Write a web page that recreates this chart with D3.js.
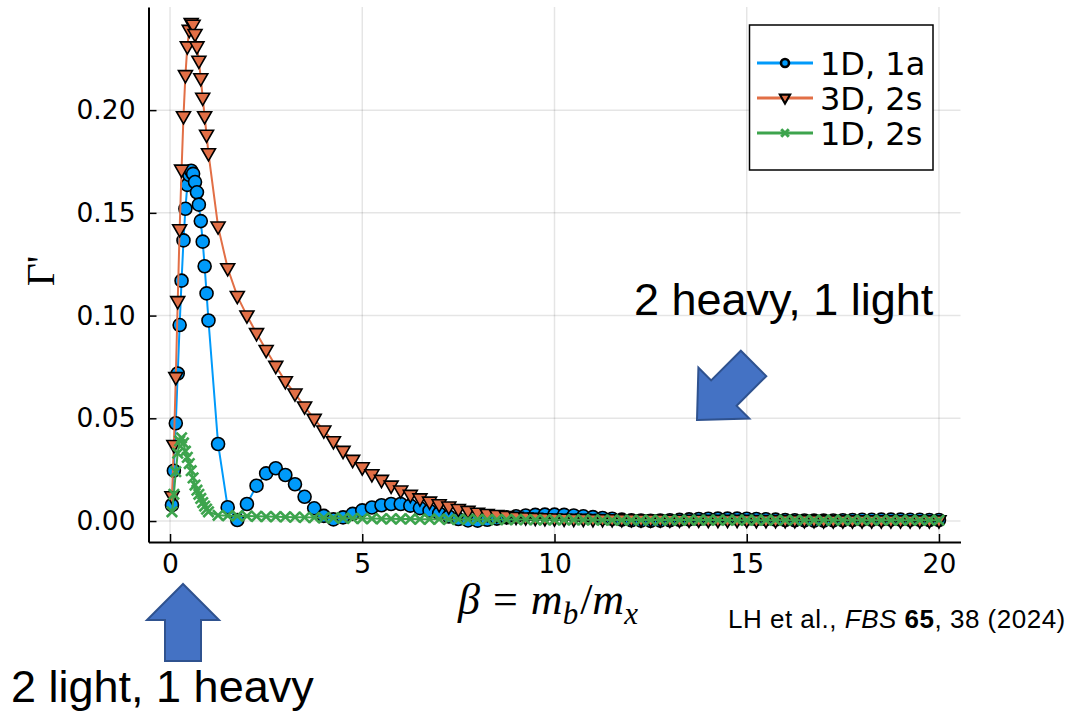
<!DOCTYPE html>
<html>
<head>
<meta charset="utf-8">
<script src="https://cdn.jsdelivr.net/npm/d3@7"></script>
<style>
  body { margin: 0; background: #ffffff; }
  svg { display: block; }
</style>
</head>
<body>
<svg id="chart" width="1071" height="714"></svg>
<script>
// Mass ratio grid: fine steps up to 1, then quarter steps to 20
const beta = [
  0.05, 0.10, 0.15, 0.20, 0.25, 0.30, 0.35, 0.40, 0.45, 0.50,
  0.55, 0.60, 0.65, 0.70, 0.75, 0.80, 0.85, 0.90, 0.95, 1.00,
  1.25, 1.5, 1.75, 2.0,   2.25, 2.5, 2.75, 3.0,   3.25, 3.5, 3.75, 4.0,
  4.25, 4.5, 4.75, 5.0,   5.25, 5.5, 5.75, 6.0,   6.25, 6.5, 6.75, 7.0,
  7.25, 7.5, 7.75, 8.0,   8.25, 8.5, 8.75, 9.0,   9.25, 9.5, 9.75, 10.0,
  10.25, 10.5, 10.75, 11.0,  11.25, 11.5, 11.75, 12.0,  12.25, 12.5, 12.75, 13.0,
  13.25, 13.5, 13.75, 14.0,  14.25, 14.5, 14.75, 15.0,  15.25, 15.5, 15.75, 16.0,
  16.25, 16.5, 16.75, 17.0,  17.25, 17.5, 17.75, 18.0,  18.25, 18.5, 18.75, 19.0,
  19.25, 19.5, 19.75, 20.0
];

// Gamma' for the one-dimensional 1a channel
const gamma1D1a = [
  0.0078, 0.0245, 0.0476, 0.0718, 0.0954, 0.1170, 0.1366, 0.1520, 0.1636, 0.1685,
  0.1705, 0.1690, 0.1650, 0.1600, 0.1540, 0.1460, 0.1360, 0.1240, 0.1108, 0.0976,
  0.0375, 0.0067, 0.0005, 0.0083,  0.0172, 0.0232, 0.0257, 0.0224,  0.0179, 0.0118, 0.0062, 0.0025,
  0.0008, 0.0018, 0.0035, 0.0052,  0.0066, 0.0077, 0.0083, 0.0083,  0.0075, 0.0063, 0.0050, 0.0037,
  0.0022, 0.0010, 0.0003, 0.0002,  0.0006, 0.0012, 0.0018, 0.0023,  0.0027, 0.0030, 0.0031, 0.0031,
  0.0030, 0.0027, 0.0023, 0.0019,  0.0015, 0.0011, 0.0007, 0.0004,  0.0002, 0.0001, 0.0002, 0.0004,
  0.0006, 0.0008, 0.0010, 0.0011,  0.0012, 0.0012, 0.0012, 0.0011,  0.0010, 0.0009, 0.0007, 0.0005,
  0.0004, 0.0003, 0.0002, 0.0002,  0.0003, 0.0004, 0.0005, 0.0006,  0.0006, 0.0007, 0.0007, 0.0007,
  0.0006, 0.0006, 0.0005, 0.0005
];

// Gamma' for the three-dimensional 2s channel
const gamma3D2s = [
  0.0120, 0.0370, 0.0700, 0.1070, 0.1420, 0.1710, 0.1970, 0.2170, 0.2310, 0.2390,
  0.2423, 0.2415, 0.2370, 0.2310, 0.2240, 0.2155, 0.2060, 0.1970, 0.1880, 0.1790,
  0.1433, 0.1230, 0.1095, 0.1000,  0.0914, 0.0832, 0.0755, 0.0680,  0.0620, 0.0557, 0.0497, 0.0440,
  0.0388, 0.0341, 0.0297, 0.0261,  0.0227, 0.0200, 0.0172, 0.0148,  0.0127, 0.0110, 0.0094, 0.0081,
  0.0070, 0.0058, 0.0049, 0.0040,  0.0034, 0.0029, 0.0024, 0.0020,  0.0017, 0.0015, 0.0013, 0.0012,
  0.0011, 0.0010, 0.0010, 0.0009,  0.0009, 0.0008, 0.0008, 0.0008,  0.0007, 0.0007, 0.0007, 0.0006,
  0.0006, 0.0006, 0.0006, 0.0005,  0.0005, 0.0005, 0.0005, 0.0005,  0.0004, 0.0004, 0.0004, 0.0004,
  0.0004, 0.0004, 0.0004, 0.0003,  0.0003, 0.0003, 0.0003, 0.0003,  0.0003, 0.0003, 0.0003, 0.0003,
  0.0003, 0.0003, 0.0003, 0.0003
];

// Gamma' for the one-dimensional 2s channel
const gamma1D2s = [
  0.0045, 0.0130, 0.0240, 0.0330, 0.0390, 0.0405, 0.0380, 0.0340, 0.0310, 0.0280,
  0.0245, 0.0210, 0.0175, 0.0150, 0.0130, 0.0110, 0.0090, 0.0073, 0.0058, 0.0045,
  0.0028, 0.0026, 0.0025, 0.0024,  0.0023, 0.0022, 0.0021, 0.0020,  0.0019, 0.0018, 0.0017, 0.0016,
  0.0015, 0.0014, 0.0013, 0.0012,  0.0012, 0.0011, 0.0011, 0.0010,  0.0010, 0.0009, 0.0009, 0.0009,
  0.0008, 0.0008, 0.0008, 0.0008,  0.0007, 0.0007, 0.0007, 0.0007,  0.0007, 0.0006, 0.0006, 0.0006,
  0.0006, 0.0006, 0.0006, 0.0006,  0.0005, 0.0005, 0.0005, 0.0005,  0.0005, 0.0005, 0.0005, 0.0005,
  0.0005, 0.0005, 0.0005, 0.0005,  0.0005, 0.0005, 0.0004, 0.0004,  0.0004, 0.0004, 0.0004, 0.0004,
  0.0004, 0.0004, 0.0004, 0.0004,  0.0004, 0.0004, 0.0004, 0.0004,  0.0004, 0.0004, 0.0004, 0.0004,
  0.0004, 0.0004, 0.0004, 0.0004
];

const seriesNames = ["1D, 1a", "3D, 2s", "1D, 2s"];
const seriesColors = ["#009AFA", "#E26F46", "#3DA44D"];
const seriesShapes = ["circle", "dtriangle", "cross"];
const xTicks = [0, 5, 10, 15, 20];
const yTicks = [0.00, 0.05, 0.10, 0.15, 0.20];

const svg = d3.select("#chart");
svg.append("rect").attr("width", 1071).attr("height", 714).attr("fill", "#ffffff");

const x = d3.scaleLinear().domain([-0.56, 20.56]).range([148.5, 960.5]);
const y = d3.scaleLinear().domain([-0.0102, 0.2502]).range([542, 7]);

// grid
const grid = svg.append("g");
grid.selectAll("line.vx").data(xTicks).join("line")
  .attr("x1", d => x(d)).attr("x2", d => x(d))
  .attr("y1", y.range()[1]).attr("y2", y.range()[0])
  .attr("stroke", "#000").attr("stroke-opacity", 0.1).attr("stroke-width", 1.5);
grid.selectAll("line.hy").data(yTicks).join("line")
  .attr("y1", d => y(d)).attr("y2", d => y(d))
  .attr("x1", x.range()[0]).attr("x2", x.range()[1])
  .attr("stroke", "#000").attr("stroke-opacity", 0.1).attr("stroke-width", 1.5);

// axes
const tickFont = "'DejaVu Sans', sans-serif";
const yAxis = svg.append("g").attr("transform", `translate(${x.range()[0]},0)`)
  .call(d3.axisLeft(y).tickValues(yTicks).tickFormat(d3.format(".2f"))
    .tickSizeInner(-8).tickSizeOuter(0).tickPadding(13));
const xAxis = svg.append("g").attr("transform", `translate(0,${y.range()[0]})`)
  .call(d3.axisBottom(x).tickValues(xTicks).tickFormat(d3.format("d"))
    .tickSizeInner(-8).tickSizeOuter(0).tickPadding(12));
[yAxis, xAxis].forEach(g => {
  g.select(".domain").attr("stroke", "#000").attr("stroke-width", 2);
  g.selectAll(".tick line").attr("stroke", "#000").attr("stroke-width", 1.5);
  g.selectAll(".tick text").attr("fill", "#000")
    .style("font-family", tickFont).style("font-size", "26.5px");
});

// series
const series = [gamma1D1a, gamma3D2s, gamma1D2s].map((vals, i) => ({
  name: seriesNames[i], color: seriesColors[i], shape: seriesShapes[i],
  points: beta.map((b, j) => ({ b, v: vals[j] }))
}));

function markerPath(shape, cx, cy, s) {
  if (shape === "dtriangle") {
    const hw = 7 * s, up = 4.6 * s, dn = 7.6 * s;
    return `M${cx - hw},${cy - up}L${cx + hw},${cy - up}L${cx},${cy + dn}Z`;
  }
  return "";
}

const line = d3.line().x(d => x(d.b)).y(d => y(d.v));
const plot = svg.append("g");
series.forEach(s => {
  const g = plot.append("g");
  g.append("path").datum(s.points).attr("d", line)
    .attr("fill", "none").attr("stroke", s.color).attr("stroke-width", 2);
  if (s.shape === "circle") {
    g.selectAll("circle").data(s.points).join("circle")
      .attr("cx", d => x(d.b)).attr("cy", d => y(d.v)).attr("r", 6.5)
      .attr("fill", s.color).attr("stroke", "#000").attr("stroke-width", 1.6);
  } else if (s.shape === "dtriangle") {
    g.selectAll("path.m").data(s.points).join("path").attr("class", "m")
      .attr("d", d => markerPath("dtriangle", x(d.b), y(d.v), 1))
      .attr("fill", s.color).attr("stroke", "#000").attr("stroke-width", 1.6)
      .attr("stroke-linejoin", "miter");
  } else {
    const r = 5.2;
    g.selectAll("path.m").data(s.points).join("path").attr("class", "m")
      .attr("d", d => {
        const cx = x(d.b), cy = y(d.v);
        return `M${cx - r},${cy - r}L${cx + r},${cy + r}M${cx - r},${cy + r}L${cx + r},${cy - r}`;
      })
      .attr("stroke", s.color).attr("stroke-width", 2.6).attr("fill", "none");
  }
});

// axis titles
svg.append("text")
  .attr("transform", "translate(54,271) rotate(-90)")
  .attr("text-anchor", "middle")
  .style("font-family", "'Liberation Serif', serif").style("font-size", "40px")
  .text("Γ'");

const xt = svg.append("text").attr("x", 548).attr("y", 614).attr("text-anchor", "middle")
  .style("font-family", "'Liberation Serif', serif").style("font-size", "44px");
xt.append("tspan").style("font-style", "italic").text("β");
xt.append("tspan").attr("dx", 13).text("=");
xt.append("tspan").attr("dx", 13).style("font-style", "italic").text("m");
xt.append("tspan").attr("dy", 10).style("font-style", "italic").style("font-size", "31px").text("b");
xt.append("tspan").attr("dy", -10).attr("dx", 2).text("/");
xt.append("tspan").style("font-style", "italic").text("m");
xt.append("tspan").attr("dy", 10).style("font-style", "italic").style("font-size", "31px").text("x");

// legend
const lg = svg.append("g");
lg.append("rect").attr("x", 749.5).attr("y", 25).attr("width", 183.5).attr("height", 145)
  .attr("fill", "#fff").attr("stroke", "#000").attr("stroke-width", 1.5);
series.forEach((s, i) => {
  const cy = 63 + i * 35;
  lg.append("line").attr("x1", 757).attr("x2", 813).attr("y1", cy).attr("y2", cy)
    .attr("stroke", s.color).attr("stroke-width", 3);
  if (s.shape === "circle") {
    lg.append("circle").attr("cx", 785).attr("cy", cy).attr("r", 4)
      .attr("fill", s.color).attr("stroke", "#000").attr("stroke-width", 2.6);
  } else if (s.shape === "dtriangle") {
    lg.append("path").attr("d", markerPath("dtriangle", 785, cy, 0.72))
      .attr("fill", s.color).attr("stroke", "#000").attr("stroke-width", 2.2);
  } else {
    const r = 3.8;
    lg.append("path")
      .attr("d", `M${785 - r},${cy - r}L${785 + r},${cy + r}M${785 - r},${cy + r}L${785 + r},${cy - r}`)
      .attr("stroke", s.color).attr("stroke-width", 3).attr("fill", "none");
  }
  lg.append("text").attr("x", 820).attr("y", cy).attr("dy", "0.36em")
    .style("font-family", tickFont).style("font-size", "32px").text(s.name);
});

// block arrows
function blockArrow(tipX, tipY, angleDeg, len, headLen, headW, shaftW) {
  const pts = [
    [0, 0], [-headLen, -headW / 2], [-headLen, -shaftW / 2], [-len, -shaftW / 2],
    [-len, shaftW / 2], [-headLen, shaftW / 2], [-headLen, headW / 2]
  ];
  svg.append("path")
    .attr("d", "M" + pts.map(p => p.join(",")).join("L") + "Z")
    .attr("transform", `translate(${tipX},${tipY}) rotate(${angleDeg})`)
    .attr("fill", "#4472C4").attr("stroke", "#2F528F").attr("stroke-width", 2)
    .attr("stroke-linejoin", "miter");
}
blockArrow(183, 584, -90, 77, 36, 72, 36);
blockArrow(697, 420, 135, 80, 38, 72, 36);

// annotations
const noteFont = "'Liberation Sans', Arial, sans-serif";
svg.append("text").attr("x", 634).attr("y", 315)
  .style("font-family", noteFont).style("font-size", "45px").text("2 heavy, 1 light");
svg.append("text").attr("x", 11).attr("y", 702)
  .style("font-family", noteFont).style("font-size", "45px").text("2 light, 1 heavy");

const cite = svg.append("text").attr("x", 728).attr("y", 628)
  .style("font-family", noteFont).style("font-size", "26px").style("letter-spacing", "0.5px");
cite.append("tspan").text("LH et al., ");
cite.append("tspan").style("font-style", "italic").text("FBS");
cite.append("tspan").text(" ");
cite.append("tspan").style("font-weight", "bold").text("65");
cite.append("tspan").text(", 38 (2024)");
</script>
</body>
</html>
